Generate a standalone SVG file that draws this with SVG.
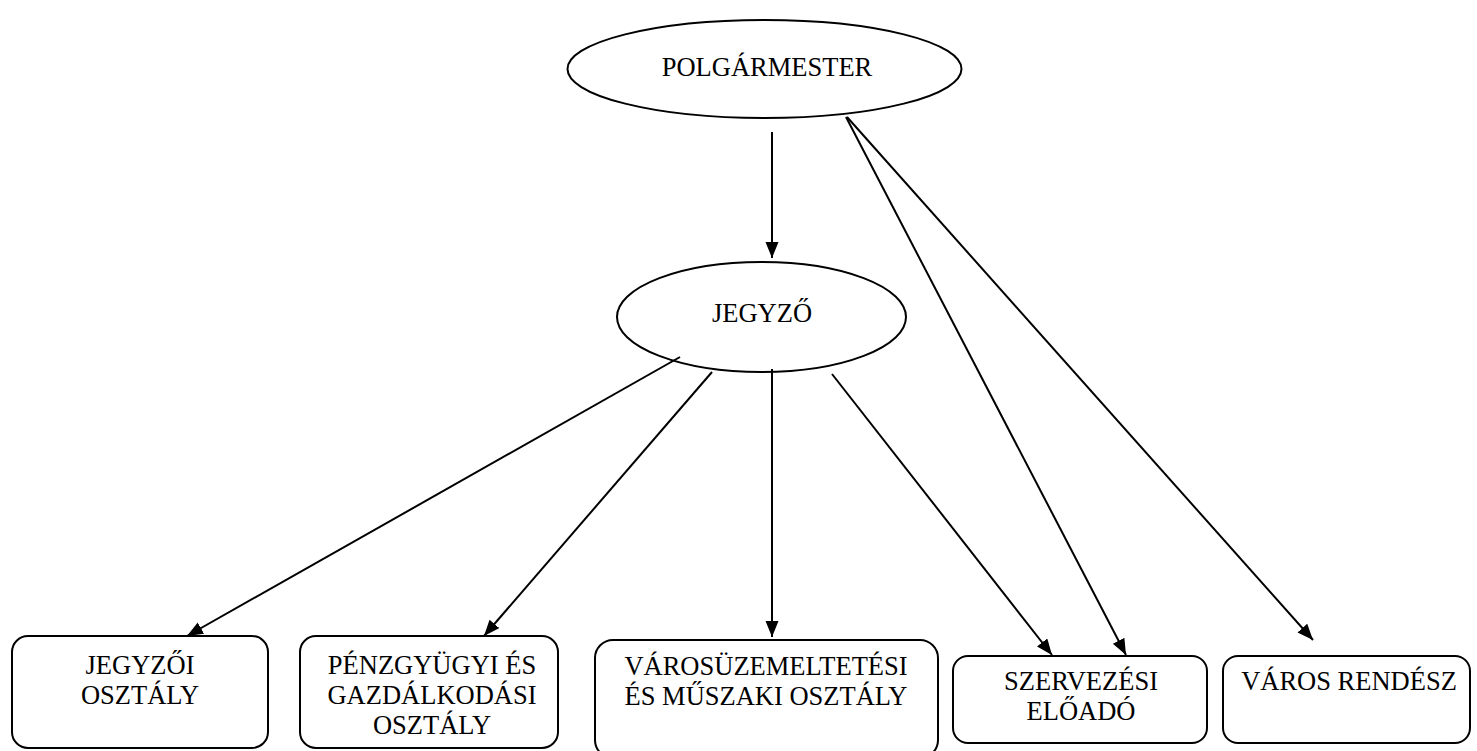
<svg xmlns="http://www.w3.org/2000/svg" width="1477" height="751" viewBox="0 0 1477 751">
<style>
.el{fill:none;stroke:#000;stroke-width:2}
.bx{fill:#fff;stroke:#000;stroke-width:2}
.t{font-family:'Liberation Serif',Tinos,'Times New Roman','DejaVu Serif',serif;font-size:26.5px;fill:#000;text-anchor:middle}
.ln{stroke:#000;stroke-width:2;fill:none;marker-end:url(#ah)}
</style>
<defs>
<marker id="ah" markerUnits="userSpaceOnUse" markerWidth="17" markerHeight="14" refX="16" refY="6.5" orient="auto">
<path d="M0,0 L16,6.5 L0,13 z" fill="#000"/>
</marker>
</defs>
<rect width="1477" height="751" fill="#fff"/>
<g id="connectors">
<line class="ln" x1="772" y1="132" x2="772" y2="258"/>
<line class="ln" x1="846" y1="117" x2="1126" y2="655"/>
<line class="ln" x1="847" y1="117" x2="1313" y2="640"/>
<line class="ln" x1="680" y1="357" x2="187" y2="636"/>
<line class="ln" x1="712" y1="372" x2="484" y2="636"/>
<line class="ln" x1="772" y1="369" x2="772" y2="637"/>
<line class="ln" x1="832" y1="374" x2="1052" y2="655"/>
</g>
<g id="polgarmester">
<ellipse class="el" cx="764.5" cy="69" rx="197" ry="49"/>
<text class="t" x="767" y="76" font-family="Liberation Serif, serif">POLGÁRMESTER</text>
</g>
<g id="jegyzo">
<ellipse class="el" cx="761.5" cy="317" rx="144.5" ry="55"/>
<text class="t" x="762" y="322" font-family="Liberation Serif, serif">JEGYZŐ</text>
</g>
<g id="jegyzoi-osztaly">
<rect class="bx" x="12" y="636" width="256" height="112" rx="16"/>
<text class="t" x="140" y="674">JEGYZŐI</text>
<text class="t" x="140" y="704">OSZTÁLY</text>
</g>
<g id="penzugyi">
<rect class="bx" x="300" y="636" width="258" height="112" rx="16"/>
<text class="t" x="432" y="674">PÉNZGYÜGYI ÉS</text>
<text class="t" x="432" y="704">GAZDÁLKODÁSI</text>
<text class="t" x="432" y="734">OSZTÁLY</text>
</g>
<g id="varosuzemeltetesi">
<rect class="bx" x="595" y="640" width="343" height="118" rx="18"/>
<text class="t" x="766" y="675">VÁROSÜZEMELTETÉSI</text>
<text class="t" x="766" y="705">ÉS MŰSZAKI OSZTÁLY</text>
</g>
<g id="szervezesi">
<rect class="bx" x="953" y="656" width="254" height="87" rx="15"/>
<text class="t" x="1081" y="690">SZERVEZÉSI</text>
<text class="t" x="1081" y="720">ELŐADÓ</text>
</g>
<g id="varos-rendesz">
<rect class="bx" x="1223" y="656" width="247" height="87" rx="15"/>
<text class="t" x="1349" y="690">VÁROS RENDÉSZ</text>
</g>
</svg>
